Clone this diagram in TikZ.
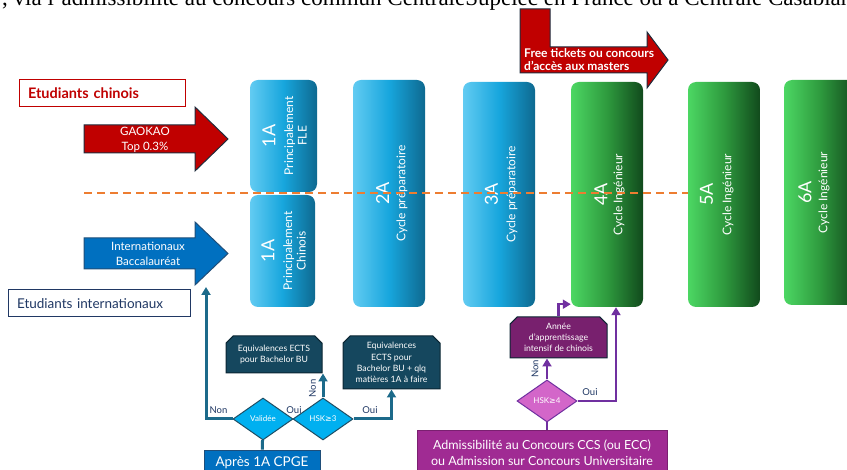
\documentclass[tikz,border=0pt]{standalone}
\usepackage{fontspec}
\setmainfont{Liberation Serif}
\setsansfont{Lato}
\newfontfamily\symfont{DejaVu Sans}
\usetikzlibrary{arrows.meta,shapes.geometric,shapes.misc,positioning,calc}

\newcommand{\fsz}[2]{\fontsize{#1}{#2}\selectfont}

\definecolor{darkred}{HTML}{C00000}
\definecolor{arrowedge}{HTML}{1F2D3D}
\definecolor{bacblue}{HTML}{0070C0}
\definecolor{bacedge}{HTML}{1F4E79}
\definecolor{navy}{HTML}{203864}
\definecolor{dashorange}{HTML}{ED7D31}
\definecolor{blueL}{HTML}{62CBF2}
\definecolor{blueM}{HTML}{17A6DD}
\definecolor{blueR}{HTML}{0E6990}
\definecolor{greenL}{HTML}{4CD763}
\definecolor{greenM}{HTML}{2E9A3E}
\definecolor{greenR}{HTML}{114A1C}
\definecolor{ectsteal}{HTML}{15475E}
\definecolor{ectsedge}{HTML}{0B2633}
\definecolor{tealline}{HTML}{1C6A8A}
\definecolor{cyandiam}{HTML}{00B0F0}
\definecolor{diamedge}{HTML}{1F4E64}
\definecolor{admpurple}{HTML}{A02B93}
\definecolor{admedge}{HTML}{7A2070}
\definecolor{hskpink}{HTML}{D366C9}
\definecolor{anneepurple}{HTML}{78206E}
\definecolor{purpleline}{HTML}{7030A0}

\begin{document}
\begin{tikzpicture}[x=1pt, y=-1pt, font=\sffamily,
    yearbox/.style={rectangle, rounded corners=8pt, inner sep=0pt},
    blueyear/.style={yearbox, left color=blueL, right color=blueR, middle color=blueM},
    greenyear/.style={yearbox, left color=greenL, right color=greenR, middle color=greenM},
    yearnum/.style={rotate=90, text=white, inner sep=0pt, font=\sffamily\fsz{18}{20}},
    yeartext/.style={rotate=90, text=white, inner sep=0pt, align=center, font=\sffamily\fsz{12}{13.5}},
    bigarrow/.style={draw=arrowedge, line width=1pt},
    arrowtext/.style={text=white, align=center, inner sep=0pt, font=\sffamily\fsz{11.5}{15}},
    groupbox/.style={rectangle, fill=white, line width=1pt, inner xsep=9pt, inner ysep=0pt,
        minimum height=27pt, align=left},
    ectsbox/.style={chamfered rectangle, chamfered rectangle corners={north west,north east},
        chamfered rectangle xsep=4pt, fill=ectsteal, draw=ectsedge, line width=1pt,
        inner sep=0pt, text=white, align=center, font=\sffamily\fsz{8.7}{11.3}},
    decision/.style={diamond, minimum width=60pt, minimum height=42pt, inner sep=0pt,
        line width=1pt, text=white, font=\sffamily\fsz{8}{9}},
    entry/.style={rectangle, inner sep=0pt, line width=0.8pt, text=white, align=center},
    link/.style={draw=tealline, line width=3pt},
    line/.style={link, -{Triangle[width=9pt,length=8pt]}},
    plink/.style={draw=purpleline, line width=2.5pt},
    pline/.style={plink, -{Triangle[width=9pt,length=8pt]}},
    choice/.style={text=navy, inner sep=0pt, font=\sffamily\fsz{9.5}{10}}]

    \useasboundingbox (0,0) rectangle (847,470);
    \clip (0,0) rectangle (847,470);

    % Cut-off sentence above the figure
    \node[anchor=base west, inner sep=0pt, font=\rmfamily\fsz{23}{26}] (intro) at (2,6)
        {, via l'admissibilité au concours commun CentraleSupélec en France ou à Centrale Casablan};

    % Chinese students
    \node[groupbox, draw=darkred, text width=148pt, text=darkred,
        font=\sffamily\bfseries\fsz{14.5}{16}] (chinois) at (102,93.5) {Etudiants chinois};
    \draw[bigarrow, fill=darkred] (84,125) -- (195,125) -- (195,107) -- (228,139)
        -- (195,171) -- (195,153) -- (84,153) -- cycle;
    \node[arrowtext] (gaokao) at (145,140) {GAOKAO\\Top 0.3\%};

    % International students
    \node[groupbox, draw=navy, text width=164pt, text=navy,
        font=\sffamily\fsz{13.5}{16}] (intl) at (99,303.5) {Etudiants internationaux};
    \draw[bigarrow, draw=bacedge, fill=bacblue] (84,238) -- (195,238) -- (195,222) -- (228,253.5)
        -- (195,285) -- (195,269) -- (84,269) -- cycle;
    \node[arrowtext] (bac) at (148,254) {Internationaux\\Baccalauréat};
    \coordinate (bacfoot) at (206,287);

    % Masters
    \draw[bigarrow, fill=darkred] (520,9) -- (550,9) -- (550,47) -- (647,47) -- (647,32)
        -- (668,60) -- (647,88) -- (647,73) -- (520,73) -- cycle;
    \node[anchor=west, text=white, align=left, inner sep=0pt,
        font=\sffamily\bfseries\fsz{12}{12.5}] (masters) at (524,59.5)
        {Free tickets ou concours\\d'accès aux masters};

    % Years
    \node[blueyear, minimum width=67pt, minimum height=112pt] (fle) at (283.5,136) {};
    \node[yearnum] (fle-num) at ($(fle)+(-14.5,0)$) {1A};
    \node[yeartext] (fle-txt) at ($(fle)+(12,0)$) {Principalement\\FLE};

    \node[blueyear, minimum width=65pt, minimum height=112pt] (chn) at (282.5,251) {};
    \node[yearnum] (chn-num) at ($(chn)+(-14.5,0)$) {1A};
    \node[yeartext] (chn-txt) at ($(chn)+(12,0)$) {Principalement\\Chinois};

    \node[blueyear, minimum width=72pt, minimum height=227pt] (y2) at (389,193.5) {};
    \node[yearnum] (y2-num) at ($(y2)+(-6.5,0)$) {2A};
    \node[yeartext] (y2-txt) at ($(y2)+(13,0)$) {Cycle préparatoire};

    \node[blueyear, minimum width=72pt, minimum height=225pt] (y3) at (499,194.5) {};
    \node[yearnum] (y3-num) at ($(y3)+(-7.5,0)$) {3A};
    \node[yeartext] (y3-txt) at ($(y3)+(13,0)$) {Cycle préparatoire};

    \node[greenyear, minimum width=72pt, minimum height=225pt] (y4) at (607,194.5) {};
    \node[yearnum] (y4-num) at ($(y4)+(-6,0)$) {4A};
    \node[yeartext] (y4-txt) at ($(y4)+(12,0)$) {Cycle Ingénieur};

    \node[greenyear, minimum width=72pt, minimum height=225pt] (y5) at (724,194.5) {};
    \node[yearnum] (y5-num) at ($(y5)+(-17.5,0)$) {5A};
    \node[yeartext] (y5-txt) at ($(y5)+(4,0)$) {Cycle Ingénieur};

    \node[greenyear, minimum width=72pt, minimum height=225pt] (y6) at (820,192.5) {};
    \node[yearnum] (y6-num) at ($(y6)+(-15,0)$) {6A};
    \node[yeartext] (y6-txt) at ($(y6)+(4,0)$) {Cycle Ingénieur};

    % Split between the two tracks
    \coordinate (split) at (84,193);
    \draw[dashorange, line width=1.5pt, dash pattern=on 8pt off 5pt] (split) -- (split -| y5.west);

    % After 1A CPGE
    \node[ectsbox, minimum width=96pt, minimum height=37pt] (ectsA) at (274,354.5)
        {Equivalences ECTS\\pour Bachelor BU};
    \node[ectsbox, minimum width=97pt, minimum height=53pt] (ectsB) at (391.5,362.5)
        {Equivalences\\ECTS pour\\Bachelor BU + qlq\\matières 1A à faire};
    \node[decision, fill=cyandiam, draw=diamedge] (valid) at (263,419) {Validée};
    \node[decision, fill=cyandiam, draw=diamedge] (hsk3) at (323,419) {HSK{\symfont ≥}3};
    \node[entry, fill=bacblue, draw=bacedge, minimum width=116pt, minimum height=26pt,
        font=\sffamily\fsz{13.5}{16}] (cpge) at (262,463) {Après 1A CPGE};

    \path[link] (valid) -- (cpge);
    \path[line] (valid.west) -| (bacfoot);
    \path[line] (hsk3.north) -- (hsk3.north |- ectsA.south);
    \path[line] (hsk3.east) -| (ectsB.south);
    \node[choice] (non1) at (218.5,410) {Non};
    \node[choice] (oui1) at (294,410) {Oui};
    \node[choice, rotate=90] (non2) at (312.5,388.5) {Non};
    \node[choice] (oui2) at (370,410) {Oui};

    % Admission by competitive exam
    \node[ectsbox, fill=anneepurple, draw=ectsedge, minimum width=97pt, minimum height=41pt]
        (annee) at (558.5,337.5) {Année\\d'apprentissage\\intensif de chinois};
    \node[decision, fill=hskpink, draw=purpleline] (hsk4) at (547,401) {HSK{\symfont ≥}4};
    \node[entry, fill=admpurple, draw=admedge, minimum width=250pt, minimum height=46pt,
        font=\sffamily\fsz{12.5}{16}] (adm) at (542,453)
        {Admissibilité au Concours CCS (ou ECC)\\ou Admission sur Concours Universitaire};

    \path[plink] (hsk4) -- (hsk4 |- adm.north);
    \path[pline] (hsk4.north) -- (hsk4.north |- annee.south);
    \path[pline] (hsk4.east) -| ($(y4.south)+(9,0)$);
    \path[pline] (annee.north) |- ($(y4.south west)+(0,-3)$);
    \node[choice, rotate=90] (non3) at (535,369) {Non};
    \node[choice] (oui3) at (590,392) {Oui};
\end{tikzpicture}
\end{document}
